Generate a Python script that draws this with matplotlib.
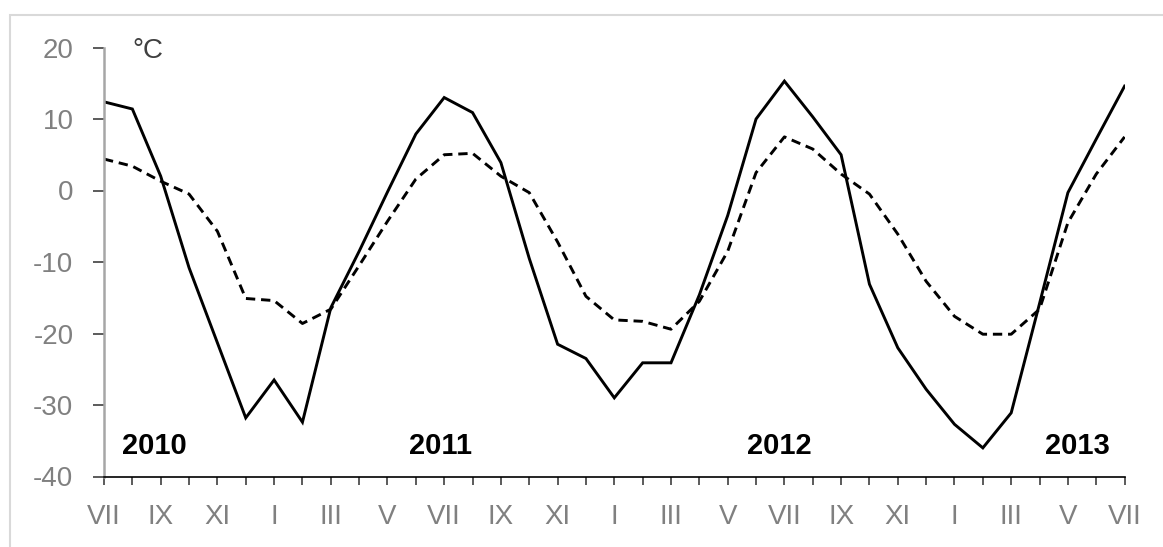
import numpy as np
import matplotlib
matplotlib.use("Agg")
import matplotlib.pyplot as plt
from matplotlib.patches import Rectangle

# monthly mean temperatures, VII 2010 .. VII 2013
months = ["VII", "VIII", "IX", "X", "XI", "XII", "I", "II", "III", "IV", "V", "VI"] * 3 + ["VII"]
t_obs = [12.4, 11.4, 2.0, -10.8, -21.3, -31.8, -26.5, -32.4, -16.4, -8.5, -0.2, 7.9,
         13.0, 10.9, 3.9, -9.5, -21.5, -23.5, -29.0, -24.1, -24.1, -14.6, -3.5, 10.0,
         15.3, 10.3, 5.0, -13.1, -22.0, -27.8, -32.7, -36.0, -31.1, -15.8, -0.3, 7.2,
         14.6]
t_norm = [4.4, 3.4, 1.3, -0.5, -5.7, -15.1, -15.4, -18.6, -16.6, -10.5, -4.3, 1.6,
          5.0, 5.2, 2.0, -0.3, -7.2, -14.8, -18.1, -18.3, -19.4, -15.5, -8.5, 2.5,
          7.5, 5.8, 2.3, -0.5, -6.1, -12.7, -17.6, -20.1, -20.1, -16.6, -4.5, 2.3,
          7.5]
years = ["2010", "2011", "2012", "2013"]
year_x = [0.63, 10.76, 22.67, 33.2]

plt.rcParams['font.family'] = ['Liberation Sans', 'DejaVu Sans']
plt.rcParams['axes.unicode_minus'] = False

fig = plt.figure(figsize=(11.63, 5.47), dpi=100)
fig.patches.append(Rectangle((10 / 1163, -0.1), 1.2, 1.1 - 15 / 547,
                             transform=fig.transFigure, fill=False,
                             edgecolor="#d9d9d9", lw=1.5))
ax = fig.add_axes([104 / 1163, 1 - 476.5 / 547, (1124.6 - 104) / 1163, 429 / 547])

x = np.arange(len(t_obs))
ax.plot(x, t_obs, color="black", lw=2.1, solid_joinstyle="miter")
ax.plot(x, t_norm, color="black", lw=2.1, ls=(0, (3.2, 2.0)))

ax.set_xlim(0, 36)
ax.set_ylim(-40, 20)
ax.set_yticks(range(-40, 21, 10))
ax.set_xticks(x[::2])
ax.set_xticklabels(months[::2])
ax.set_xticks(x, minor=True)

for s in ["top", "right"]:
    ax.spines[s].set_visible(False)
ax.spines["left"].set_color("#a6a6a6")
ax.spines["left"].set_linewidth(1.8)
ax.spines["bottom"].set_color("black")
ax.spines["bottom"].set_linewidth(1.2)

ax.tick_params(axis="y", direction="out", length=8, width=1.2, color="#404040",
               labelsize=20, labelcolor="#808080", pad=14)
ax.tick_params(axis="x", which="both", direction="out", length=6, width=1.2,
               color="#404040")
ax.tick_params(axis="x", which="major", labelsize=20, labelcolor="#808080", pad=14)

ax.text(1.0, 19.5, "°C", fontsize=20, color="#404040", va="center", ha="left")
for yr, xp in zip(years, year_x):
    ax.text(xp, -36.85, yr, fontsize=21, fontweight="bold", color="black",
            va="baseline", ha="left")

fig.savefig("out.png", dpi=100)
